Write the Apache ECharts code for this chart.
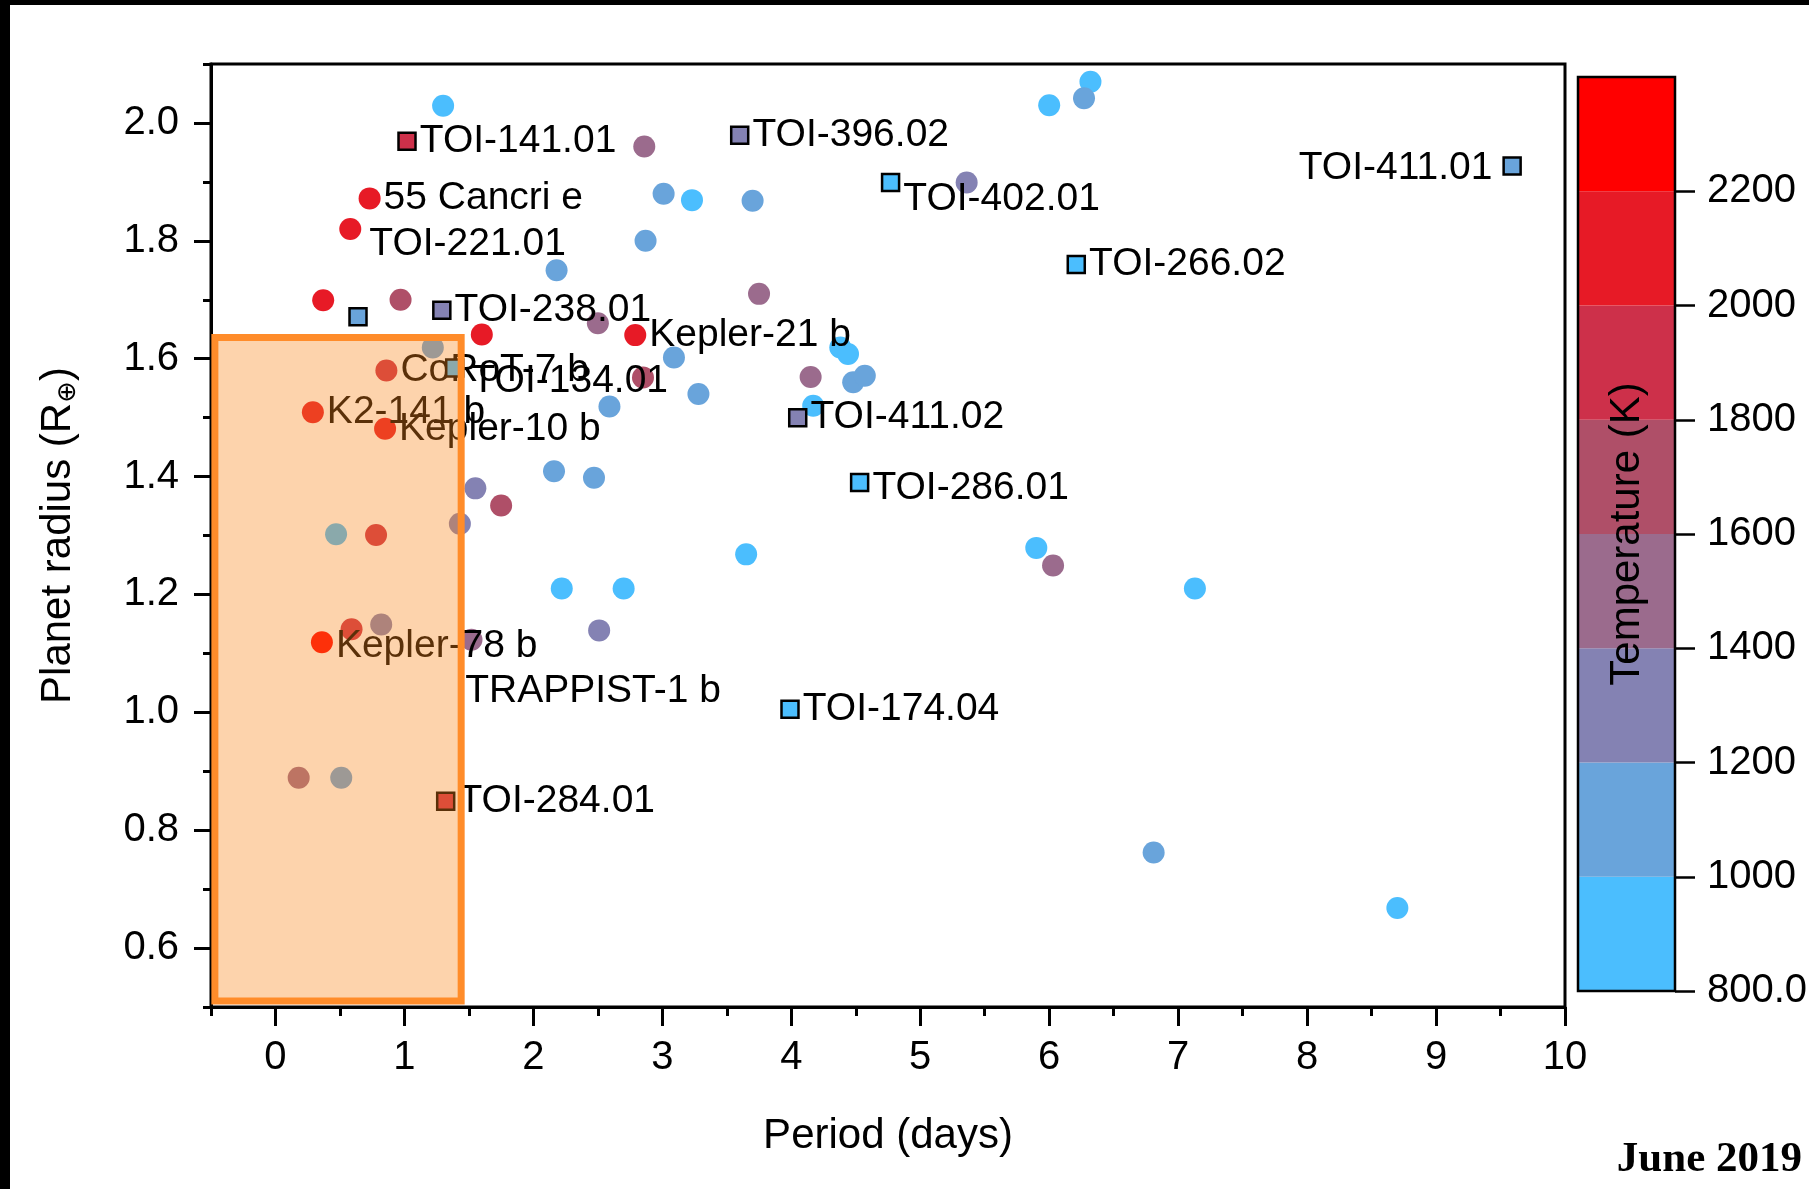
<!DOCTYPE html>
<html><head><meta charset="utf-8">
<script src="https://cdn.jsdelivr.net/npm/echarts@6/dist/echarts.min.js"></script>
<style>html,body{margin:0;padding:0;background:#fff}#c{width:1809px;height:1189px}</style>
</head><body><div id="c"></div>
<script>
// ---- data (period in days, radius in Earth radii, equilibrium temperature in K) ----
const circP = [1.30, 2.86, 6.32, 6.00, 6.27, 5.36, 0.73, 0.58, 3.01, 3.23, 3.70, 2.87, 2.18, 0.37, 0.97, 2.50, 2.79, 1.60, 3.75, 1.22,
               0.86, 2.85, 3.09, 2.59, 3.28, 4.15, 4.38, 4.44, 4.48, 4.57, 4.17, 0.29, 0.85, 2.16, 2.47, 1.55, 1.75, 1.43, 0.47, 0.78,
               3.65, 5.90, 6.03, 7.13, 2.22, 2.70, 2.51, 1.52, 0.36, 0.59, 0.82, 0.18, 0.51, 6.81, 8.70];
const circR = [2.029, 1.960, 2.070, 2.030, 2.042, 1.899, 1.872, 1.820, 1.880, 1.869, 1.868, 1.800, 1.750, 1.699, 1.700, 1.660, 1.640, 1.641, 1.710, 1.619,
               1.580, 1.568, 1.602, 1.519, 1.540, 1.569, 1.619, 1.608, 1.560, 1.571, 1.520, 1.509, 1.481, 1.409, 1.398, 1.380, 1.351, 1.320, 1.302, 1.301,
               1.268, 1.279, 1.249, 1.210, 1.210, 1.210, 1.139, 1.123, 1.119, 1.141, 1.149, 0.889, 0.889, 0.762, 0.668];
const circT = [900, 1500, 900, 900, 1100, 1300, 2100, 2100, 1100, 900, 1100, 1100, 1100, 2100, 1700, 1500, 2100, 2100, 1500, 1100,
               1900, 1700, 1100, 1100, 1100, 1500, 900, 900, 1100, 1100, 900, 2100, 2100, 1100, 1100, 1300, 1700, 1300, 900, 1900,
               900, 900, 1500, 900, 900, 900, 1300, 1500, 2300, 1900, 1300, 1500, 1100, 1100, 900];
const circName = ['', '', '', '', '', '', '55 Cancri e', 'TOI-221.01', '', '', '', '', '', '', '', '', 'Kepler-21 b', '', '', '',
                  'CoRoT-7 b', '', '', '', '', '', '', '', '', '', '', 'K2-141 b', 'Kepler-10 b', '', '', '', '', '', '', '',
                  '', '', '', '', '', '', '', '', 'Kepler-78 b', '', '', '', '', '', ''];

const sqP = [1.02, 3.60, 9.59, 4.77, 6.21, 0.64, 1.29, 1.39, 4.05, 4.53, 3.99, 1.32];
const sqR = [1.969, 1.979, 1.927, 1.899, 1.760, 1.671, 1.682, 1.584, 1.500, 1.390, 1.005, 0.849];
const sqT = [1900, 1300, 1100, 900, 900, 1100, 1300, 900, 1300, 900, 900, 1900];
const sqName = ['TOI-141.01', 'TOI-396.02', 'TOI-411.01', 'TOI-402.01', 'TOI-266.02', '', 'TOI-238.01', 'TOI-134.01',
                'TOI-411.02', 'TOI-286.01', 'TOI-174.04', 'TOI-284.01'];

const plainP = [1.44];
const plainR = [1.036];
const plainName = ['TRAPPIST-1 b'];

const boxP = [-0.47, 1.44];
const boxR = [0.51, 1.636];

const xMajorTicks = [0, 1, 2, 3, 4, 5, 6, 7, 8, 9, 10];
const xMinorTicks = [-0.5, 0.5, 1.5, 2.5, 3.5, 4.5, 5.5, 6.5, 7.5, 8.5, 9.5];
const yMajorTicks = [0.6, 0.8, 1.0, 1.2, 1.4, 1.6, 1.8, 2.0];
const yMinorTicks = [0.5, 0.7, 0.9, 1.1, 1.3, 1.5, 1.7, 1.9, 2.1];
const tempBreaks = [800, 1000, 1200, 1400, 1600, 1800, 2000, 2200, 2400];
const tempTicks = [800, 1000, 1200, 1400, 1600, 1800, 2000, 2200];
const tempColors = ['#4BBEFE', '#69A4DB', '#8482B3', '#9B6B8D', '#AF4F68', '#CD304A', '#E71A26', '#FF0000'];

// ---- styles ----
const FONT = 'Liberation Sans, Arial, Helvetica, sans-serif';
const labelTweaks = {
  'TOI-221.01': {distance: 8, offset: [0, 15]},
  'TOI-402.01': {offset: [0, 17]},
  'TOI-411.01': {position: 'left', distance: 10, offset: [0, 2]},
  'TOI-286.01': {offset: [0, 6]},
  'TOI-134.01': {offset: [4, 13]},
  'Kepler-78 b': {offset: [0, 4]}
};
function item(p, r, t, name) {
  const v = t == null ? [p, r] : [p, r, t];
  const o = {value: v, name: name};
  if (name) {
    o.label = Object.assign({show: true}, labelTweaks[name] || {});
  }
  return o;
}
const circData = circP.map((p, i) => item(p, circR[i], circT[i], circName[i]));
const sqData = sqP.map((p, i) => item(p, sqR[i], sqT[i], sqName[i]));
const plainData = plainP.map((p, i) => item(p, plainR[i], null, plainName[i]));

const baseLabel = {show: false, position: 'right', distance: 3, formatter: '{b}', fontSize: 39,
                   color: '#000', fontFamily: FONT};

const pieces = tempColors.map((c, i) => {
  const pc = {gte: tempBreaks[i], color: c};
  if (i === tempColors.length - 1) pc.lte = tempBreaks[i + 1]; else pc.lt = tempBreaks[i + 1];
  return pc;
});
const cbData = tempColors.map((c, i) => [tempBreaks[i], tempBreaks[i + 1]]);

const chart = echarts.init(document.getElementById('c'), null, {renderer: 'canvas'});
const axisLineStyle = {color: '#000', width: 3};
const option = {
  animation: false,
  backgroundColor: '#fff',
  title: {text: 'June 2019', right: 7, bottom: 8, padding: 0,
          textStyle: {fontFamily: 'Liberation Serif, DejaVu Serif, serif', fontWeight: 'bold', fontSize: 43, color: '#000'}},
  graphic: [
    {type: 'rect', left: 0, top: 0, shape: {width: 10, height: 1189}, style: {fill: '#000'}, silent: true},
    {type: 'rect', left: 0, top: 0, shape: {width: 1809, height: 5}, style: {fill: '#000'}, silent: true}
  ],
  grid: [
    {left: 211, top: 64, width: 1354, height: 943, show: true, borderColor: '#000', borderWidth: 3,
     backgroundColor: 'transparent', outerBoundsMode: 'none', containLabel: false},
    {left: 1578, top: 77, width: 97, height: 914, outerBoundsMode: 'none', containLabel: false}
  ],
  visualMap: {type: 'piecewise', show: false, dimension: 2, seriesIndex: [0, 1], pieces: pieces},
  xAxis: [
    {gridIndex: 0, type: 'value', min: -0.5, max: 10, name: 'Period (days)', nameLocation: 'middle', nameGap: 108,
     nameTextStyle: {fontSize: 42, color: '#000', fontFamily: FONT},
     axisLine: {show: true, onZero: false, lineStyle: axisLineStyle},
     axisTick: {show: true, customValues: xMajorTicks, length: 19, lineStyle: {color: '#000', width: 3}},
     axisLabel: {customValues: xMajorTicks, fontSize: 40, color: '#000', margin: 31, fontFamily: FONT},
     splitLine: {show: false}},
    {gridIndex: 0, type: 'value', min: -0.5, max: 10, position: 'bottom',
     axisLine: {show: false, onZero: false},
     axisTick: {show: true, customValues: xMinorTicks, length: 9, lineStyle: {color: '#000', width: 3}},
     axisLabel: {show: false}, splitLine: {show: false}},
    {gridIndex: 1, type: 'value', min: 0, max: 1, show: false}
  ],
  yAxis: [
    {gridIndex: 0, type: 'value', min: 0.5, max: 2.1, name: 'Planet radius (R{sub|⊕})', nameLocation: 'middle',
     nameGap: 130, nameRotate: 90,
     nameTextStyle: {fontSize: 42, color: '#000', fontFamily: FONT,
                     rich: {sub: {fontSize: 26, color: '#000', fontFamily: 'DejaVu Sans', padding: [20, 0, 0, 0]}}},
     axisLine: {show: true, onZero: false, lineStyle: axisLineStyle},
     axisTick: {show: true, customValues: yMajorTicks, length: 17, lineStyle: {color: '#000', width: 3}},
     axisLabel: {customValues: yMajorTicks, fontSize: 40, color: '#000', margin: 32, fontFamily: FONT,
                 formatter: v => v.toFixed(1)},
     splitLine: {show: false}},
    {gridIndex: 0, type: 'value', min: 0.5, max: 2.1, position: 'left',
     axisLine: {show: false, onZero: false},
     axisTick: {show: true, customValues: yMinorTicks, length: 8, lineStyle: {color: '#000', width: 3}},
     axisLabel: {show: false}, splitLine: {show: false}},
    {gridIndex: 1, type: 'value', min: 800, max: 2400, position: 'right', z: 10,
     name: 'Temperature (K)', nameLocation: 'middle', nameRotate: 90, nameGap: -69,
     nameTextStyle: {fontSize: 42, color: '#000', fontFamily: FONT},
     axisLine: {show: false, onZero: false},
     axisTick: {show: true, customValues: tempTicks, length: 20, lineStyle: {color: '#000', width: 2.5}},
     axisLabel: {customValues: tempTicks, fontSize: 40, color: '#000', margin: 32, fontFamily: FONT,
                 formatter: v => (v === 800 ? '800.0' : String(v))},
     splitLine: {show: false}}
  ],
  series: [
    {type: 'scatter', name: 'known', xAxisIndex: 0, yAxisIndex: 0, symbol: 'circle', symbolSize: 22, z: 2,
     itemStyle: {opacity: 1}, label: baseLabel, emphasis: {disabled: true}, data: circData},
    {type: 'scatter', name: 'TOI', xAxisIndex: 0, yAxisIndex: 0, symbol: 'rect', symbolSize: 17, z: 3,
     itemStyle: {opacity: 1, borderColor: '#000', borderWidth: 2.5}, label: baseLabel, emphasis: {disabled: true},
     data: sqData},
    {type: 'scatter', name: 'uncoloured', xAxisIndex: 0, yAxisIndex: 0, symbol: 'circle', symbolSize: 2, z: 3,
     itemStyle: {color: 'rgba(255,255,255,0)', opacity: 1}, label: Object.assign({}, baseLabel, {distance: 3}),
     emphasis: {disabled: true}, data: plainData},
    {type: 'scatter', name: 'box', xAxisIndex: 0, yAxisIndex: 0, data: [], z: 10, silent: true,
     markArea: {silent: true, z: 10, label: {show: false},
                itemStyle: {color: 'rgba(250,132,24,0.36)', borderColor: '#FF8C2A', borderWidth: 7, opacity: 1},
                emphasis: {disabled: true},
                data: [[{coord: [boxP[0], boxR[0]]}, {coord: [boxP[1], boxR[1]]}]]}},
    {type: 'custom', name: 'colorbar', xAxisIndex: 2, yAxisIndex: 2, silent: true, z: 2, data: cbData,
     renderItem: (params, api) => {
       const lo = api.value(0), hi = api.value(1);
       const a = api.coord([0, hi]), b = api.coord([1, lo]);
       return {type: 'rect', shape: {x: a[0], y: a[1], width: b[0] - a[0], height: b[1] - a[1]},
               style: {fill: tempColors[params.dataIndex]}};
     }},
    {type: 'custom', name: 'colorbarFrame', xAxisIndex: 2, yAxisIndex: 2, silent: true, z: 4,
     data: [[tempBreaks[0], tempBreaks[tempBreaks.length - 1]]],
     renderItem: (params, api) => {
       const lo = api.value(0), hi = api.value(1);
       const a = api.coord([0, hi]), b = api.coord([1, lo]);
       return {type: 'rect', shape: {x: a[0], y: a[1], width: b[0] - a[0], height: b[1] - a[1]},
               style: {fill: 'none', stroke: '#000', lineWidth: 2.5}};
     }}
  ]
};
chart.setOption(option);
</script></body></html>
